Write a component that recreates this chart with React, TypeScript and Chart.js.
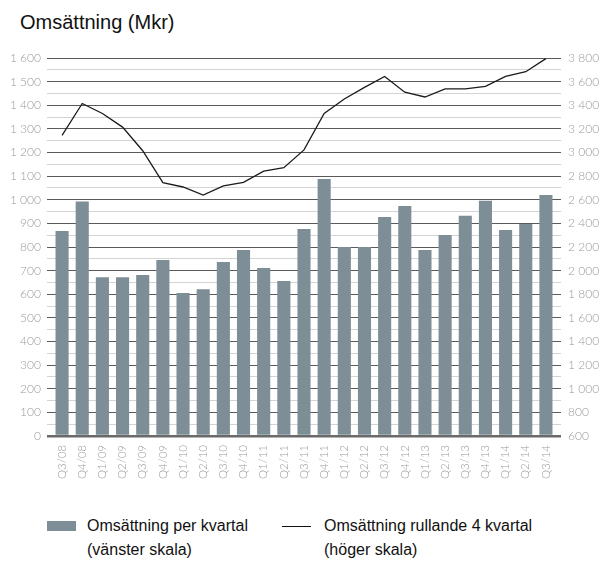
import React, { useEffect, useRef } from "react";
import { Chart, registerables } from "chart.js";

Chart.register(...registerables);

const categories = [
  "Q3/08", "Q4/08",
  "Q1/09", "Q2/09", "Q3/09", "Q4/09",
  "Q1/10", "Q2/10", "Q3/10", "Q4/10",
  "Q1/11", "Q2/11", "Q3/11", "Q4/11",
  "Q1/12", "Q2/12", "Q3/12", "Q4/12",
  "Q1/13", "Q2/13", "Q3/13", "Q4/13",
  "Q1/14", "Q2/14", "Q3/14",
];

const quarterlySales = [
  868, 993,
  672, 672, 681, 745,
  605, 621, 736, 787,
  711, 656, 876, 1088,
  800, 800, 927, 974,
  787, 851, 932, 996,
  872, 897, 1020,
];

const rolling4Sales = [
  3145, 3415,
  3330, 3215, 3015, 2745,
  2708, 2640, 2718, 2748,
  2842, 2872, 3022, 3330,
  3453, 3551, 3644, 3510,
  3470, 3538, 3538, 3560,
  3644, 3684, 3795,
];

const leftMin = 0;
const leftMax = 1600;
const rightMin = 600;
const rightMax = 3800;

const titleText = "Omsättning (Mkr)";
const legendBar = ["Omsättning per kvartal", "(vänster skala)"];
const legendLine = ["Omsättning rullande 4 kvartal", "(höger skala)"];

const BAR_COLOR = "#7e8e97";
const MAJOR = "#5a5a5a";
const MINOR = "#d4d4d4";
const TICK_COLOR = "#9a9a9a";

function fmt(v: number): string {
  if (v >= 1000) {
    const th = Math.floor(v / 1000);
    const rest = String(v % 1000).padStart(3, "0");
    return `${th} ${rest}`;
  }
  return String(v);
}

export default function App() {
  const ref = useRef<HTMLCanvasElement | null>(null);

  useEffect(() => {
    document.body.style.margin = "0";
    const canvas = ref.current;
    if (!canvas) return;
    const tickFont = { family: "Lato, 'DejaVu Sans', sans-serif", size: 12, weight: 300 as any };
    const chart = new Chart(canvas, {
      type: "bar",
      data: {
        labels: categories,
        datasets: [
          {
            type: "line",
            label: legendLine[0],
            data: rolling4Sales,
            yAxisID: "y1",
            borderColor: "#1c1c1c",
            borderWidth: 1.3,
            pointRadius: 0,
            tension: 0,
            fill: false,
            order: 0,
          } as any,
          {
            type: "bar",
            label: legendBar[0],
            data: quarterlySales,
            yAxisID: "y",
            backgroundColor: BAR_COLOR,
            barPercentage: 0.65,
            categoryPercentage: 1,
            order: 1,
          },
        ],
      },
      options: {
        responsive: false,
        animation: false,
        devicePixelRatio: 1,
        layout: { padding: { top: 58, left: 0, right: 0, bottom: 0 } },
        plugins: { legend: { display: false }, tooltip: { enabled: false }, title: { display: false } },
        scales: {
          x: {
            grid: { display: false, drawTicks: false },
            border: { display: false },
            ticks: {
              autoSkip: false,
              maxRotation: 90,
              minRotation: 90,
              color: TICK_COLOR,
              font: { family: "Lato, 'DejaVu Sans', sans-serif", size: 11.5, weight: 300 as any },
              padding: 9,
            },
            afterFit: (s: any) => {
              s.height = 54;
              s.paddingLeft = 0;
              s.paddingRight = 0;
            },
          },
          y: {
            position: "left",
            min: leftMin,
            max: leftMax,
            border: { display: false },
            grid: {
              color: (c: any) => (c.tick && c.tick.value % 100 === 0 ? (c.tick.value === 0 ? "#6a6a6a" : MAJOR) : MINOR),
              lineWidth: (c: any) => (c.tick && c.tick.value === 0 ? 2.5 : 1),
              tickLength: 5,
              drawTicks: true,
            },
            ticks: {
              stepSize: 50,
              autoSkip: false,
              color: TICK_COLOR,
              font: tickFont,
              padding: 6,
              callback: (v: any) => (Number(v) % 100 === 0 ? fmt(Number(v)) : ""),
            },
            afterFit: (s: any) => {
              s.width = 52;
              s.paddingTop = 0;
              s.paddingBottom = 0;
            },
          },
          y1: {
            position: "right",
            min: rightMin,
            max: rightMax,
            border: { display: false },
            grid: {
              drawOnChartArea: false,
              color: (c: any) => (c.tick && c.tick.value % 200 === 0 ? (c.tick.value === rightMin ? "#6a6a6a" : MAJOR) : MINOR),
              lineWidth: (c: any) => (c.tick && c.tick.value === rightMin ? 2.5 : 1),
              tickLength: 5,
              drawTicks: true,
            },
            ticks: {
              stepSize: 100,
              autoSkip: false,
              color: TICK_COLOR,
              font: tickFont,
              padding: 7,
              callback: (v: any) => (Number(v) % 200 === 0 ? fmt(Number(v)) : ""),
            },
            afterFit: (s: any) => {
              s.width = 47;
              s.paddingTop = 0;
              s.paddingBottom = 0;
            },
          },
        },
      },
    });
    return () => chart.destroy();
  }, []);

  const textStyle: React.CSSProperties = {
    position: "absolute",
    fontFamily: "'Liberation Sans', Arial, sans-serif",
    fontSize: 16,
    lineHeight: "20px",
    color: "#111",
    whiteSpace: "nowrap",
  };

  return (
    <div style={{ position: "relative", width: 603, height: 563, background: "#fff", overflow: "hidden" }}>
      <div
        style={{
          position: "absolute",
          left: 20,
          top: 10,
          fontFamily: "'Liberation Sans', Arial, sans-serif",
          fontSize: 20,
          lineHeight: "24px",
          color: "#111",
          whiteSpace: "nowrap",
        }}
      >
        {titleText}
      </div>
      <canvas
        ref={ref}
        width={603}
        height={490}
        style={{ position: "absolute", left: 0, top: 0, width: 603, height: 490 }}
      />
      <div style={{ position: "absolute", left: 47, top: 521, width: 29, height: 10, background: BAR_COLOR }} />
      <div style={{ ...textStyle, left: 87, top: 515.5 }}>{legendBar[0]}</div>
      <div style={{ ...textStyle, left: 87, top: 540 }}>{legendBar[1]}</div>
      <div style={{ position: "absolute", left: 282, top: 526, width: 29, height: 0, borderTop: "1.3px solid #111" }} />
      <div style={{ ...textStyle, left: 324, top: 515.5 }}>{legendLine[0]}</div>
      <div style={{ ...textStyle, left: 324, top: 540 }}>{legendLine[1]}</div>
    </div>
  );
}
